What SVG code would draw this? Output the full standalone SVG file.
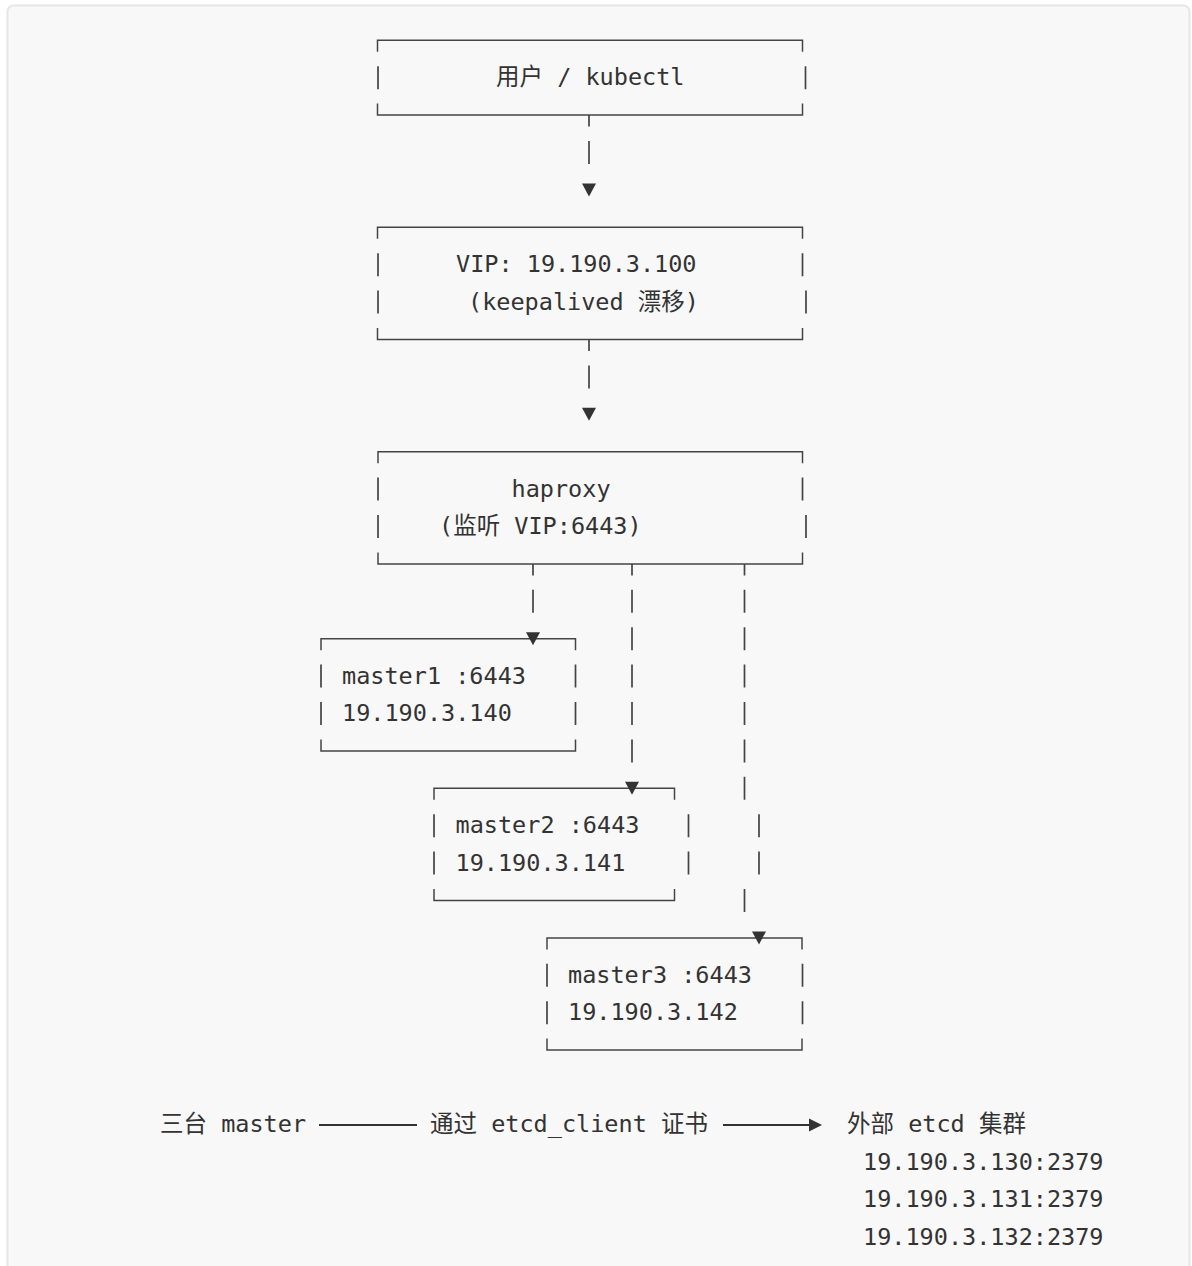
<svg xmlns="http://www.w3.org/2000/svg" width="1192" height="1266" viewBox="0 0 1192 1266">
<defs>
<style>
.t{font-family:"DejaVu Sans Mono","Noto Sans CJK SC",monospace;font-size:23.5px;fill:#333;}
.bx{fill:none;stroke:#444;stroke-width:1.5;}
.bar{fill:none;stroke:#444;stroke-width:1.7;}
.ln{fill:none;stroke:#333;stroke-width:2;}
.ah{fill:#333;}
</style>
</defs>
<rect x="7.5" y="5.5" width="1182" height="1290" rx="6" fill="#f8f8f8" stroke="#e6e6e6" stroke-width="2"/>

<g id="user">
<path class="bx" d="M377.5 51.8V40.3H802.5V51.8M377.5 103.6V115.1H802.5V103.6"/>
<path class="bar" d="M378 66.2V89.2M805.5 66.2V89.2"/>
<text class="t" x="496" y="85.2">用户 / kubectl</text>
</g>

<g id="vip">
<path class="bx" d="M377.5 238.8V227.3H802.5V238.8M377.5 328V339.5H802.5V328"/>
<path class="bar" d="M378 253.2V276.2M802.5 253.2V276.2M378 290.6V313.6M806 290.6V313.6"/>
<text class="t" x="456" y="272.2">VIP: 19.190.3.100</text>
<text class="t" x="468" y="309.6">(keepalived 漂移)</text>
</g>

<g id="haproxy">
<path class="bx" d="M378 463.2V451.7H802.5V463.2M378 552.4V563.9H802.5V552.4"/>
<path class="bar" d="M378 477.6V500.6M802.5 477.6V500.6M378 515V538M806 515V538"/>
<text class="t" x="511.5" y="496.6">haproxy</text>
<text class="t" x="439" y="534">(监听 VIP:6443)</text>
</g>

<g id="master1">
<path class="bx" d="M321 650.2V638.7H575.5V650.2M321 739.4V750.9H575.5V739.4"/>
<path class="bar" d="M321 664.6V687.6M575.5 664.6V687.6M321 702V725M575.5 702V725"/>
<text class="t" x="342" y="683.6">master1 :6443</text>
<text class="t" x="342" y="721">19.190.3.140</text>
</g>

<g id="master2">
<path class="bx" d="M434 799.8V788.3H674.5V799.8M434 889V900.5H674.5V889"/>
<path class="bar" d="M434 814.2V837.2M688.5 814.2V837.2M434 851.6V874.6M688.5 851.6V874.6"/>
<text class="t" x="455.5" y="833.2">master2 :6443</text>
<text class="t" x="455.5" y="870.6">19.190.3.141</text>
</g>

<g id="master3">
<path class="bx" d="M547 949.4V937.9H802V949.4M547 1038.6V1050.1H802V1038.6"/>
<path class="bar" d="M547 963.8V986.8M802.5 963.8V986.8M547 1001.2V1024.2M802.5 1001.2V1024.2"/>
<text class="t" x="568" y="982.8">master3 :6443</text>
<text class="t" x="568" y="1020.2">19.190.3.142</text>
</g>

<g id="masters">
<text class="t" x="160" y="1132.4">三台 master</text>
</g>

<g id="cert-label">
<text class="t" x="430" y="1132.4">通过 etcd_client 证书</text>
</g>

<g id="etcd">
<text class="t" x="847" y="1132.4">外部 etcd 集群</text>
<text class="t" x="863" y="1169.8">19.190.3.130:2379</text>
<text class="t" x="863" y="1207.2">19.190.3.131:2379</text>
<text class="t" x="863" y="1244.6">19.190.3.132:2379</text>
</g>

<g id="connectors">
<path class="bar" d="M589 115.1V126.6M589 141V164"/>
<polygon class="ah" points="582,183.5 596,183.5 589,196.5"/>
<path class="bar" d="M589 339.5V351M589 365.4V388.4"/>
<polygon class="ah" points="582,407.8 596,407.8 589,420.8"/>
<path class="bar" d="M533 563.9V575.4M533 589.8V612.8"/>
<polygon class="ah" points="526,632.2 540,632.2 533,645.2"/>
<path class="bar" d="M632 563.9V575.4M632 589.8V612.8M632 627.2V650.2M632 664.6V687.6M632 702V725M632 739.4V762.4"/>
<polygon class="ah" points="625,781.8 639,781.8 632,794.8"/>
<path class="bar" d="M744.5 563.9V575.4M744.5 589.8V612.8M744.5 627.2V650.2M744.5 664.6V687.6M744.5 702V725M744.5 739.4V762.4M744.5 776.8V799.8M759 814.2V837.2M759 851.6V874.6M744.5 889V912"/>
<polygon class="ah" points="752,931.4 766,931.4 759,944.4"/>
<path class="ln" d="M319 1125H417M723 1125H810"/>
<polygon class="ah" points="809,1118.5 822,1125 809,1131.5"/>
</g>
</svg>
